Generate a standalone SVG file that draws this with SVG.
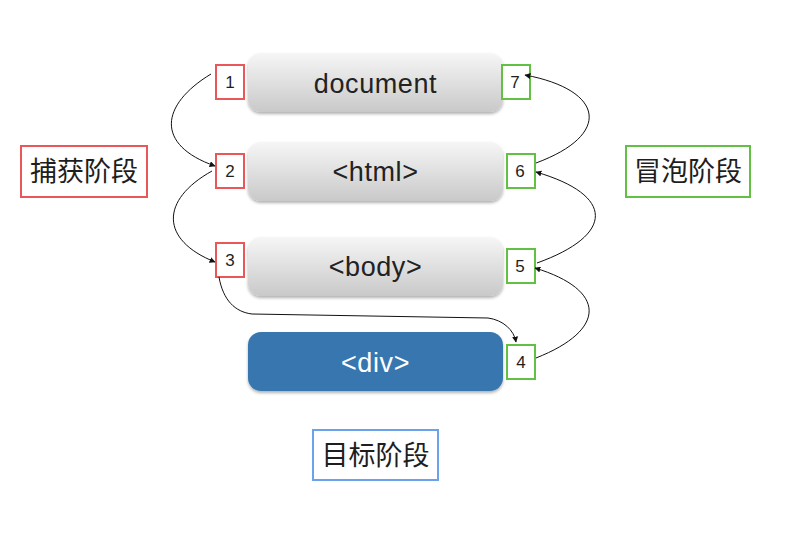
<svg xmlns="http://www.w3.org/2000/svg" width="792" height="555" viewBox="0 0 792 555">
<style>
.node{fill:url(#g);filter:url(#sh)}
.nt{font-family:"Liberation Sans","DejaVu Sans",sans-serif;font-size:27px;fill:#222;text-anchor:middle;letter-spacing:0.6px}
.num{font-family:"Liberation Sans","DejaVu Sans",sans-serif;font-size:17px;fill:#1e1e1e;text-anchor:middle}
.rb{fill:#fff;stroke:#e9575a;stroke-width:2}
.gb{fill:#fff;stroke:#62c143;stroke-width:2}
.bb{fill:#fff;stroke:#6aa2ee;stroke-width:2}
.cn{font-family:"Noto Sans CJK SC","Noto Sans CJK JP",sans-serif;font-size:27px;fill:#1e1e1e;text-anchor:middle}
.c{fill:none;stroke:#111;stroke-width:1;marker-end:url(#ah)}
</style>
<defs>
<linearGradient id="g" x1="0" y1="0" x2="0" y2="1">
<stop offset="0" stop-color="#f6f6f6"/>
<stop offset="1" stop-color="#c9c9c9"/>
</linearGradient>
<filter id="sh" x="-10%" y="-20%" width="120%" height="150%">
<feDropShadow dx="0" dy="2" stdDeviation="1.5" flood-color="#000" flood-opacity="0.3"/>
</filter>
<marker id="ah" viewBox="0 0 10 10" refX="9" refY="5" markerWidth="6" markerHeight="6" orient="auto" markerUnits="userSpaceOnUse">
<path d="M0,0 L10,5 L0,10 z" fill="#111"/>
</marker>
</defs>
<rect width="792" height="555" fill="#fff"/>
<g id="node-document">
<rect class="node" x="248" y="53" width="255" height="59" rx="13"/>
<text class="nt" x="375.5" y="93">document</text>
</g>
<g id="node-html">
<rect class="node" x="248" y="142" width="255" height="59" rx="13"/>
<text class="nt" x="375.5" y="181">&lt;html&gt;</text>
</g>
<g id="node-body">
<rect class="node" x="248" y="237" width="255" height="59" rx="13"/>
<text class="nt" x="375.5" y="276">&lt;body&gt;</text>
</g>
<g id="node-div">
<rect x="248" y="332" width="255" height="59" rx="13" fill="#3876af" filter="url(#sh)"/>
<text class="nt" x="375.5" y="372" style="fill:#fff">&lt;div&gt;</text>
</g>
<g id="num-1"><rect class="rb" x="216" y="65" width="28" height="34"/><text class="num" x="230" y="88">1</text></g>
<g id="num-2"><rect class="rb" x="216" y="154" width="28" height="34"/><text class="num" x="230" y="177">2</text></g>
<g id="num-3"><rect class="rb" x="216" y="243" width="28" height="34"/><text class="num" x="230" y="266">3</text></g>
<g id="num-4"><rect class="gb" x="507" y="345" width="28" height="34"/><text class="num" x="521" y="368">4</text></g>
<g id="num-5"><rect class="gb" x="507" y="249" width="28" height="34"/><text class="num" x="520" y="272">5</text></g>
<g id="num-6"><rect class="gb" x="507" y="154" width="28" height="34"/><text class="num" x="520" y="177">6</text></g>
<g id="num-7"><rect class="gb" x="502" y="65" width="28" height="34"/><text class="num" x="515" y="88">7</text></g>
<g id="label-capture"><rect class="rb" x="21" y="146" width="126" height="51"/><text class="cn" x="84" y="181">捕获阶段</text></g>
<g id="label-bubble"><rect class="gb" x="626" y="146" width="124" height="51"/><text class="cn" x="688" y="181">冒泡阶段</text></g>
<g id="label-target"><rect class="bb" x="313" y="430" width="125" height="50"/><text class="cn" x="375.5" y="465">目标阶段</text></g>
<g id="connectors">
<path class="c" d="M211,74 C160,105 155,145 215,166"/>
<path class="c" d="M212,171 C160,200 160,240 215,262"/>
<path class="c" d="M219,277 C223,300 235,312 252,314 L488,318 C503,320 514,330 516,342"/>
<path class="c" d="M536,358 C607,330 607,290 535,268"/>
<path class="c" d="M537,263 C615,235 615,195 536,172"/>
<path class="c" d="M536,163 C612,135 605,90 525,75"/>
</g>
</svg>
